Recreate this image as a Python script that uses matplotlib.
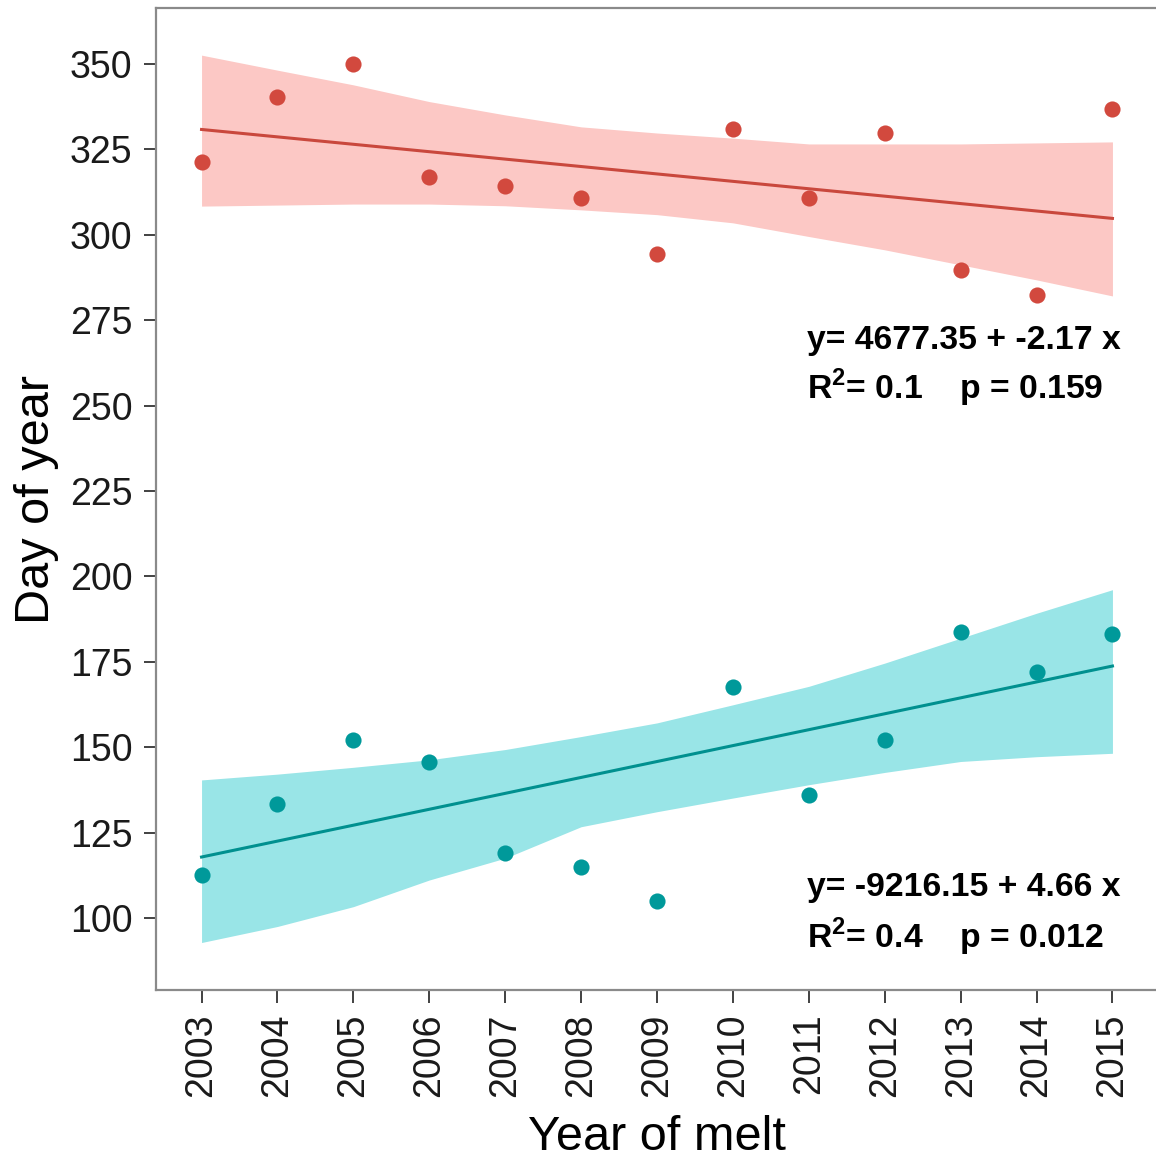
#!/usr/bin/env python3
# -*- coding: utf-8 -*-
"""
plot.py — ngày trong năm theo năm tan băng, hai nhóm + đường hồi quy + dải tin cậy
"""
import numpy as np
import matplotlib
matplotlib.use("Agg")
import matplotlib.pyplot as plt

plt.rcParams["font.family"] = ["Liberation Sans", "DejaVu Sans"]
plt.rcParams["mathtext.fontset"] = "custom"
plt.rcParams["mathtext.rm"] = "Liberation Sans"
plt.rcParams["mathtext.bf"] = "Liberation Sans:bold"

# --- dữ liệu ---
years = [2003, 2004, 2005, 2006, 2007, 2008, 2009, 2010, 2011, 2012, 2013, 2014, 2015]

red_doy = [321.3, 340.3, 350.0, 316.9, 314.3, 310.8, 294.4, 331.0, 310.8, 329.8, 289.7, 282.4, 336.8]
red_hi = [352.6, 348.2, 343.9, 339.0, 335.1, 331.6, 329.8, 328.3, 326.6, 326.6, 326.6, 326.9, 327.2]
red_lo = [308.4, 308.7, 309.0, 309.0, 308.5, 307.3, 305.9, 303.5, 299.5, 295.6, 291.2, 286.8, 282.1]
red_coef = (4677.35, -2.17)
red_stats = ("0.1", "0.159")

teal_doy = [112.6, 133.4, 152.1, 145.7, 119.0, 115.0, 105.0, 167.6, 136.0, 152.1, 183.7, 172.0, 183.1]
teal_hi = [140.4, 142.1, 144.1, 146.3, 149.3, 153.1, 157.1, 162.4, 167.8, 174.6, 181.9, 189.2, 196.1]
teal_lo = [92.8, 97.5, 103.3, 111.1, 117.5, 126.7, 131.1, 135.1, 139.0, 142.6, 145.8, 147.2, 148.2]
teal_coef = (-9216.15, 4.66)
teal_stats = ("0.4", "0.012")

yticks = [100, 125, 150, 175, 200, 225, 250, 275, 300, 325, 350]

W, H = 1156, 1162
fig = plt.figure(figsize=(W / 100, H / 100), dpi=100)
ax = fig.add_axes([156 / W, 172 / H, 1002 / W, 982 / H])

x = np.array(years, dtype=float)
groups = [
    (red_doy, red_lo, red_hi, red_coef, red_stats, "#FCC8C5", "#C9483D", "#D2493E", (269.2, 255.2)),
    (teal_doy, teal_lo, teal_hi, teal_coef, teal_stats, "#99E5E7", "#00908F", "#00999A", (108.8, 94.4)),
]
for doy, lo, hi, (b0, b1), (r2, pv), fill, lc, pc, (ty1, ty2) in groups:
    ax.fill_between(x, lo, hi, color=fill, lw=0, zorder=1)
    ax.plot(x, b0 + b1 * x, "-", color=lc, lw=2.2, zorder=2)
    ax.scatter(x, doy, s=135, color=pc, lw=0, zorder=3)
    eq = f"y= {b0:.2f} + {b1:.2f} x"
    ax.text(2010.97, ty1, eq, fontsize=24.3, fontweight="bold", va="center", ha="left", zorder=4)
    ax.text(2010.97, ty2, r"R$^{\mathbf{2}}$" + f"= {r2}    p = {pv}",
            fontsize=24.3, fontweight="bold", va="center", ha="left", zorder=4)

ax.set_xlim(2002.4, 2015.6)
ax.set_ylim(78.9, 366.4)
ax.set_xticks(years)
ax.set_xticklabels([str(y) for y in years], rotation=90)
ax.set_yticks(yticks)

for s in ("left", "top", "bottom"):
    ax.spines[s].set_color("#8a8a8a")
    ax.spines[s].set_linewidth(1.6)
ax.spines["right"].set_visible(False)
ax.tick_params(axis="both", length=9, width=1.3, color="#333333",
               labelsize=27, labelcolor="#1a1a1a", pad=8)

ax.set_xlabel("Year of melt", fontsize=35, labelpad=13)
ax.set_ylabel("Day of year", fontsize=35, labelpad=8)

fig.savefig("out.png", dpi=100)
